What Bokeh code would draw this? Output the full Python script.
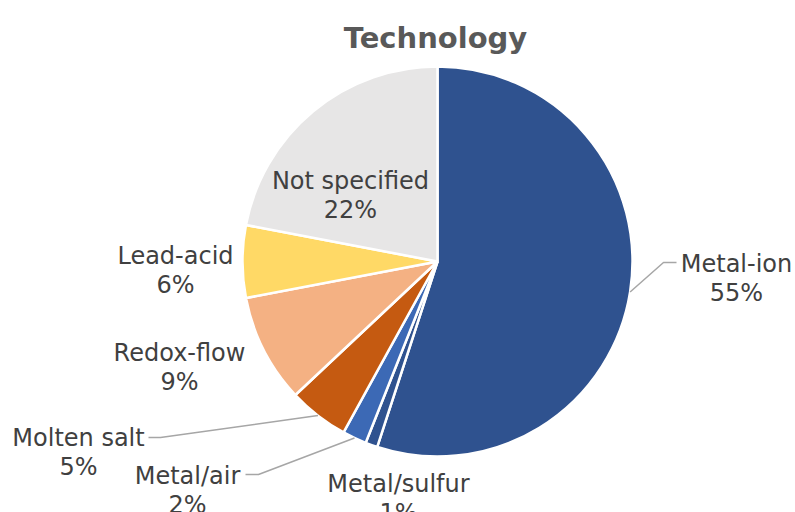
import numpy as np
from bokeh.plotting import figure
from bokeh.models import ColumnDataSource, Range1d
from bokeh.core.properties import value
from bokeh.embed import file_html
from bokeh.resources import INLINE

# Share of projects by storage technology (%)
categories = ["Metal-ion", "Metal/sulfur", "Metal/air", "Molten salt",
              "Redox-flow", "Lead-acid", "Not specified"]
shares = [55, 1, 2, 5, 9, 6, 22]
colors = ["#2F528F", "#2F528F", "#3C69B5", "#C55A11",
          "#F4B183", "#FFD966", "#E7E6E6"]

W, H = 795, 512
CX, CY, R = 437, H - 261, 195
FONT = "DejaVu Sans"

# label anchors: (centre x, baseline of name line), measured from the top
label_pos = {
    "Metal-ion": (736, 263),
    "Metal/sulfur": (398, 483),
    "Metal/air": (187, 475),
    "Molten salt": (78, 437),
    "Redox-flow": (179, 352),
    "Lead-acid": (175, 255),
    "Not specified": (350, 180),
}
# leader lines: elbow and end point near the label, measured from the top
leaders = {
    "Metal-ion": [(663, 262), (676, 262)],
    "Molten salt": [(160, 437), (148, 437)],
    "Metal/air": [(258, 474), (245, 474)],
}

vals = np.array(shares, dtype=float)
frac = vals / vals.sum()
cum = np.concatenate([[0], np.cumsum(frac)])
start = np.pi / 2 - 2 * np.pi * cum[:-1]
end = np.pi / 2 - 2 * np.pi * cum[1:]

src = ColumnDataSource(dict(cat=categories, start=start, end=end, color=colors))

p = figure(width=W, height=H, x_range=Range1d(0, W), y_range=Range1d(0, H),
           x_axis_type=None, y_axis_type=None, min_border=0,
           toolbar_location=None, output_backend="svg")
p.grid.visible = False
p.outline_line_color = None
p.background_fill_color = "white"
p.border_fill_color = "white"

p.wedge(x=CX, y=CY, radius=R, start_angle="start", end_angle="end",
        direction="clock", fill_color="color", line_color="white",
        line_width=2.5, source=src)

# leader lines from the slice's mid-angle on the rim to its label
for cat, pts in leaders.items():
    i = categories.index(cat)
    mid = 2 * np.pi * (cum[i] + cum[i + 1]) / 2
    x0 = CX + R * np.sin(mid)
    y0 = CY + R * np.cos(mid)
    xs = [x0] + [pt[0] for pt in pts]
    ys = [y0] + [H - pt[1] for pt in pts]
    p.line(xs, ys, line_color="#A6A6A6", line_width=1.5)

names_x, names_y, pct_y, pct_txt = [], [], [], []
for cat, v in zip(categories, shares):
    lx, ly = label_pos[cat]
    names_x.append(lx)
    names_y.append(H - ly)
    pct_y.append(H - ly - 29)
    pct_txt.append(f"{v}%")

p.text(x=names_x, y=names_y, text=categories, text_align="center",
       text_baseline="alphabetic", text_font=value(FONT),
       text_font_size="24px", text_color="#404040")
p.text(x=names_x, y=pct_y, text=pct_txt, text_align="center",
       text_baseline="alphabetic", text_font=value(FONT),
       text_font_size="24px", text_color="#404040")

p.text(x=[CX - 2], y=[H - 37], text=["Technology"], text_align="center",
       text_baseline="alphabetic", text_font=value(FONT),
       text_font_size="29px", text_font_style="bold", text_color="#595959")

open("out.html", "w").write(file_html(p, INLINE))
